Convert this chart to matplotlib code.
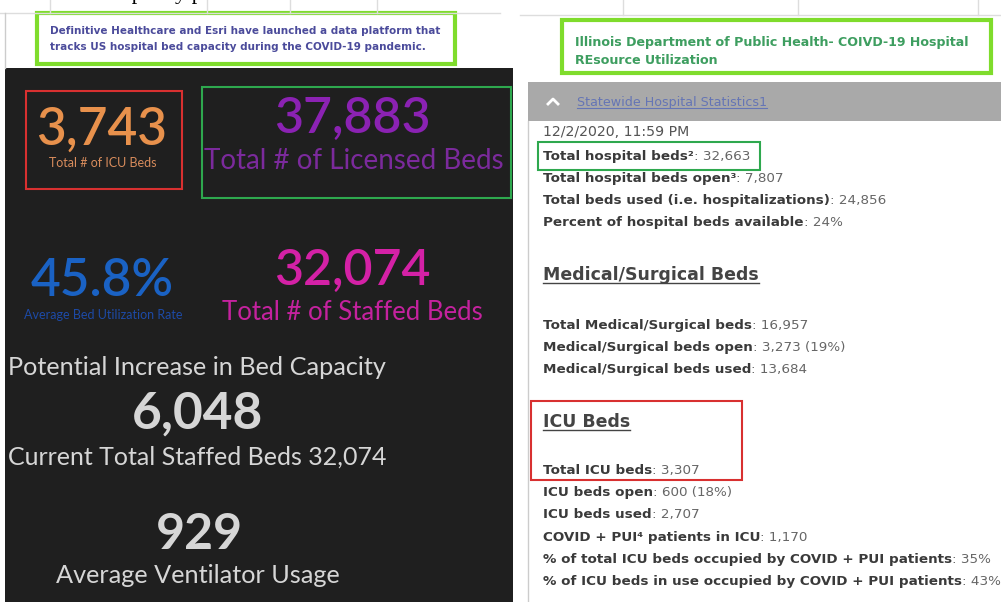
import matplotlib
matplotlib.use('Agg')
import matplotlib.pyplot as plt
from matplotlib.patches import Rectangle

# dashboard tiles (left screenshot)
tile_values = ['3,743', '37,883', '45.8%', '32,074']
tile_labels = ['Total # of ICU Beds', 'Total # of Licensed Beds',
               'Average Bed Utilization Rate', 'Total # of Staffed Beds']
capacity_increase = '6,048'
current_staffed = '32,074'
ventilator_usage = '929'

# IDPH statewide statistics (right screenshot)
report_time = '12/2/2020, 11:59 PM'
hospital_labels = ['Total hospital beds\u00b2', 'Total hospital beds open\u00b3',
                   'Total beds used (i.e. hospitalizations)',
                   'Percent of hospital beds available']
hospital_values = ['32,663', '7,807', '24,856', '24%']
medsurg_labels = ['Total Medical/Surgical beds', 'Medical/Surgical beds open',
                  'Medical/Surgical beds used']
medsurg_values = ['16,957', '3,273 (19%)', '13,684']
icu_labels = ['Total ICU beds', 'ICU beds open', 'ICU beds used',
              'COVID + PUI\u2074 patients in ICU',
              '% of total ICU beds occupied by COVID + PUI patients',
              '% of ICU beds in use occupied by COVID + PUI patients']
icu_values = ['3,307', '600 (18%)', '2,707', '1,170', '35%', '43%']

fig = plt.figure(figsize=(10.01, 6.02), dpi=100)
ax = fig.add_axes([0, 0, 1, 1])
ax.set_xlim(0, 1001)
ax.set_ylim(602, 0)
ax.axis('off')
renderer = fig.canvas.get_renderer()
inv = ax.transData.inverted()

sans = ['DejaVu Sans']
dash = ['Lato', 'DejaVu Sans']

# faint page grid at the top
ax.plot([0, 500], [13, 13], color='#dddddd', lw=1)
ax.plot([520, 1001], [15, 15], color='#dddddd', lw=1)
for x in [50, 207, 290, 377]:
    ax.plot([x, x], [0, 13], color='#dddddd', lw=1)
for x in [623, 798, 978]:
    ax.plot([x, x], [0, 15], color='#dddddd', lw=1)
ax.plot([5, 5], [13, 68], color='#cccccc', lw=1)
# bottom of a cropped line of page text above the screenshots
ax.text(112, -1, 'capacity p', family=['Liberation Serif'], fontsize=16,
        color='black', va='baseline')

# caption boxes
ax.add_patch(Rectangle((37, 13), 418, 51, fill=False, ec='#7fdc2c', lw=3))
ax.text(50, 34, 'Definitive Healthcare and Esri have launched a data platform that',
        family=sans, fontsize=7.5, fontweight='bold', color='#4b4b9b')
ax.text(50, 50, 'tracks US hospital bed capacity during the COVID-19 pandemic.',
        family=sans, fontsize=7.5, fontweight='bold', color='#4b4b9b')

ax.add_patch(Rectangle((562, 20), 429, 53, fill=False, ec='#7fdc2c', lw=3))
ax.text(575, 46, 'Illinois Department of Public Health- COIVD-19 Hospital',
        family=sans, fontsize=9.05, fontweight='bold', color='#3e9e60')
ax.text(575, 64, 'REsource Utilization',
        family=sans, fontsize=9.05, fontweight='bold', color='#3e9e60')

# left dark dashboard
ax.add_patch(Rectangle((5, 68), 508, 534, color='#1f1f1f', lw=0))
ax.add_patch(Rectangle((26, 91), 156, 98, fill=False, ec='#d83030', lw=1.5))
ax.add_patch(Rectangle((202, 87), 309, 111, fill=False, ec='#2ea84e', lw=1.5))

ax.text(102, 145, tile_values[0], family=dash, fontsize=37, fontweight='semibold',
        color='#e8914c', ha='center', va='baseline')
ax.text(103, 167, tile_labels[0], family=dash, fontsize=9, color='#d88c5c',
        ha='center', va='baseline')
ax.text(352, 133, tile_values[1], family=dash, fontsize=36, fontweight='semibold',
        color='#8b22b3', ha='center', va='baseline')
ax.text(354, 169, tile_labels[1], family=dash, fontsize=20, color='#7b2a9c',
        ha='center', va='baseline')
ax.text(102, 296, tile_values[2], family=dash, fontsize=37, fontweight='semibold',
        color='#1a62c4', ha='center', va='baseline')
ax.text(103, 319, tile_labels[2], family=dash, fontsize=9, color='#1d4aa6',
        ha='center', va='baseline')
ax.text(352, 285, tile_values[3], family=dash, fontsize=36, fontweight='semibold',
        color='#d421a6', ha='center', va='baseline')
ax.text(352, 320, tile_labels[3], family=dash, fontsize=18.5, color='#c4229e',
        ha='center', va='baseline')

ax.text(8, 375, 'Potential Increase in Bed Capacity', family=dash, fontsize=18.2,
        color='#d6d6d6', va='baseline')
ax.text(198, 429, capacity_increase, family=dash, fontsize=37, fontweight='bold',
        color='#d6d6d6', ha='center', va='baseline')
ax.text(8, 465, 'Current Total Staffed Beds ' + current_staffed, family=dash,
        fontsize=18, color='#d6d6d6', va='baseline')
ax.text(199, 549, ventilator_usage, family=dash, fontsize=36, fontweight='bold',
        color='#d6d6d6', ha='center', va='baseline')
ax.text(198, 583, 'Average Ventilator Usage', family=dash, fontsize=18.2,
        color='#d6d6d6', ha='center', va='baseline')

# right white panel
ax.add_patch(Rectangle((528, 82), 473, 39, color='#a9a9a9', lw=0))
ax.plot([528, 528], [121, 602], color='#cccccc', lw=1)
ax.plot([548, 553, 558], [104, 99, 104], color='white', lw=2)
t = ax.text(577, 106, 'Statewide Hospital Statistics1', family=sans, fontsize=9.1,
            color='#6575b5', va='baseline')
bb = t.get_window_extent(renderer)
ax.plot([577, inv.transform((bb.x1, 0))[0]], [108, 108], color='#6575b5', lw=0.8)

ax.text(543, 136, report_time, family=sans, fontsize=10.2, color='#555555',
        va='baseline')

stat_size = 9.7


def stat_line(y, label, value):
    lab = ax.text(543, y, label, family=sans, fontsize=stat_size, fontweight='bold',
                  color='#3a3a3a', va='baseline')
    b = lab.get_window_extent(renderer)
    x1 = inv.transform((b.x1, 0))[0]
    ax.text(x1, y, ': ' + value, family=sans, fontsize=stat_size, color='#666666',
            va='baseline')


def header(y, text):
    h = ax.text(543, y, text, family=sans, fontsize=12.5, fontweight='bold',
                color='#444444', va='baseline')
    b = h.get_window_extent(renderer)
    ax.plot([543, inv.transform((b.x1, 0))[0]], [y + 3, y + 3],
            color='#444444', lw=1)


for i, (lab, val) in enumerate(zip(hospital_labels, hospital_values)):
    stat_line(160 + 22 * i, lab, val)
ax.add_patch(Rectangle((538, 142), 222, 28, fill=False, ec='#2ea84e', lw=1.5))

header(280, 'Medical/Surgical Beds')
for i, (lab, val) in enumerate(zip(medsurg_labels, medsurg_values)):
    stat_line(329 + 22 * i, lab, val)

header(427, 'ICU Beds')
for i, (lab, val) in enumerate(zip(icu_labels, icu_values)):
    stat_line(474 + 22.2 * i, lab, val)
ax.add_patch(Rectangle((531, 401), 211, 79, fill=False, ec='#d83030', lw=1.5))

fig.savefig('out.png', dpi=100)
